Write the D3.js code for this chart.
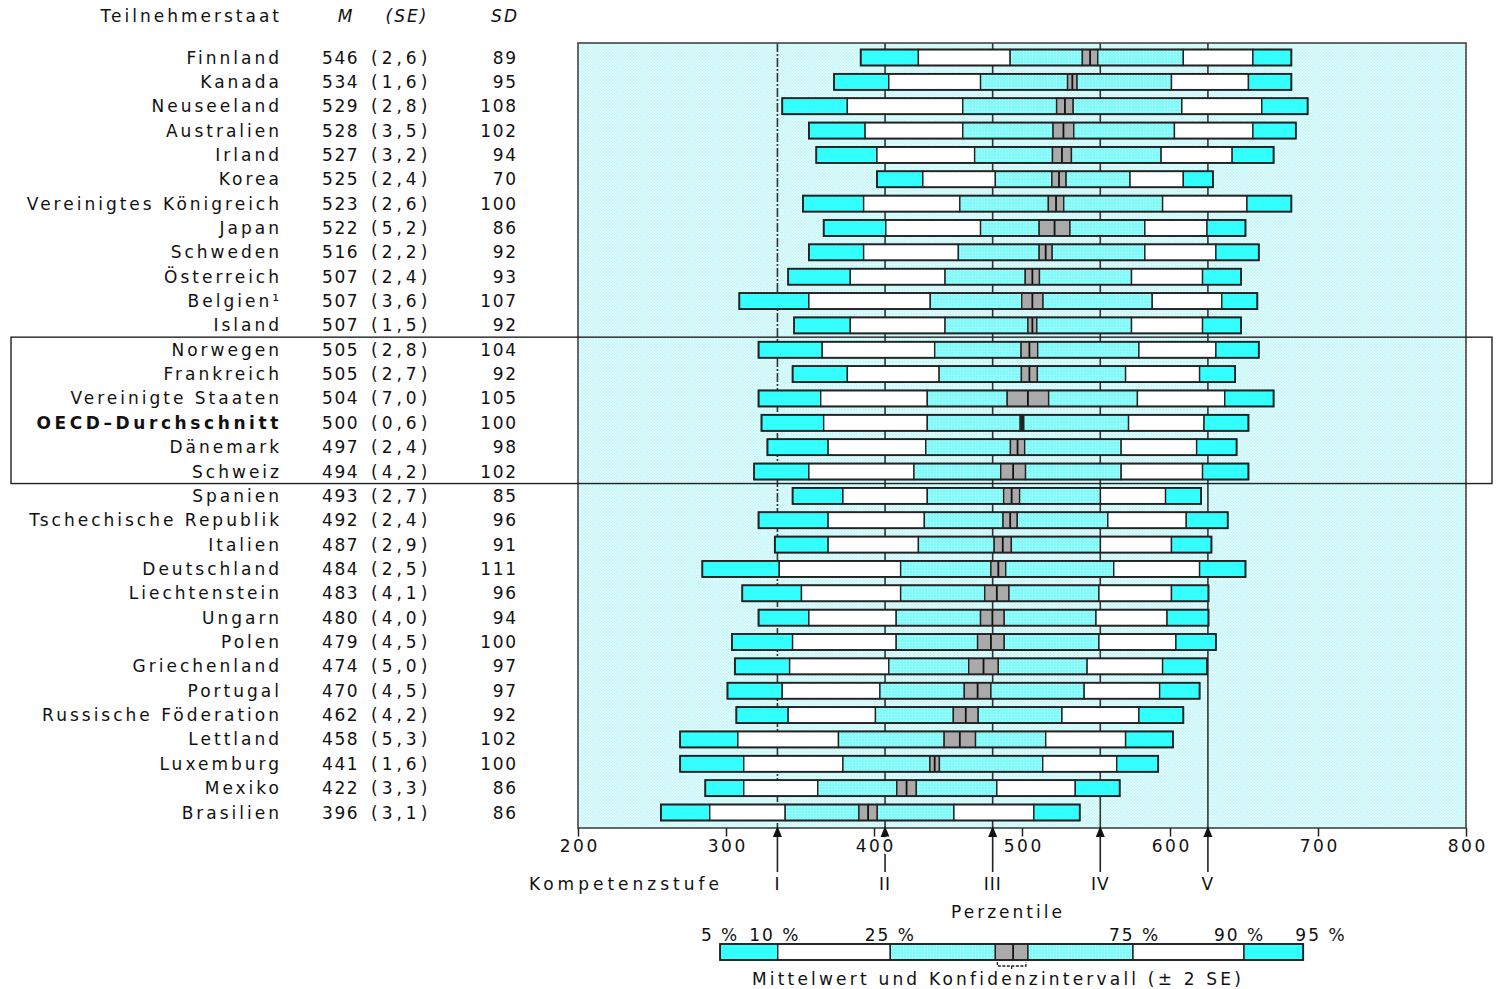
<!DOCTYPE html>
<html><head><meta charset="utf-8">
<script src="https://cdn.jsdelivr.net/npm/d3@7"></script>
<style>
html,body{margin:0;padding:0;background:#fff;}
svg text{font-family:"DejaVu Sans","Open Sans",sans-serif;fill:#111;font-size:17px;}
</style></head>
<body><svg id="c" width="1499" height="989"></svg>
<script>
const countries = ["Finnland","Kanada","Neuseeland","Australien","Irland","Korea","Vereinigtes Königreich","Japan","Schweden","Österreich","Belgien\u00B9","Island","Norwegen","Frankreich","Vereinigte Staaten","OECD–Durchschnitt","Dänemark","Schweiz","Spanien","Tschechische Republik","Italien","Deutschland","Liechtenstein","Ungarn","Polen","Griechenland","Portugal","Russische Föderation","Lettland","Luxemburg","Mexiko","Brasilien"];
const means = [546,534,529,528,527,525,523,522,516,507,507,507,505,505,504,500,497,494,493,492,487,484,483,480,479,474,470,462,458,441,422,396];
const se = [2.6,1.6,2.8,3.5,3.2,2.4,2.6,5.2,2.2,2.4,3.6,1.5,2.8,2.7,7.0,0.6,2.4,4.2,2.7,2.4,2.9,2.5,4.1,4.0,4.5,5.0,4.5,4.2,5.3,1.6,3.3,3.1];
const sd = [89,95,108,102,94,70,100,86,92,93,107,92,104,92,105,100,98,102,85,96,91,111,96,94,100,97,97,92,102,100,86,86];
const p5  = [391,373,338,356,361,402,352,366,356,342,309,346,322,345,322,324,328,319,345,322,333,284,311,322,304,306,301,307,269,269,286,256];
const p10 = [430,410,382,394,402,433,393,408,393,384,356,384,365,382,364,366,369,356,379,369,369,336,351,356,345,343,338,342,308,312,312,289];
const p25 = [492,472,460,460,468,482,458,472,457,448,438,448,441,444,436,436,435,427,436,434,430,418,418,415,415,410,404,401,376,379,362,340];
const p75 = [609,601,608,603,594,573,595,583,583,574,588,574,579,570,578,572,567,567,553,558,553,562,552,550,552,544,542,527,516,514,483,454];
const p90 = [656,653,662,656,642,609,652,625,631,622,635,622,631,620,637,623,618,622,597,611,601,620,601,598,604,595,593,579,570,564,536,508];
const p95 = [682,682,693,685,670,629,682,651,660,648,659,648,660,644,670,653,645,653,621,639,628,651,626,626,631,625,620,609,602,592,566,539];
const levels = [334.75,407.47,480.18,552.89,625.61];
const levelLabels = ["I","II","III","IV","V"];
const xTicks = [200,300,400,500,600,700,800];
const legendValues = [296,335,411,482,494,504,575,650,690];
const legendLabels = ["5 %","10 %","25 %","75 %","90 %","95 %"];
const legendLabelAt = [296,333,411,576,647,702];
const highlighted = ["Norwegen","Schweiz"];

const LS_TXT = 3, LS_NUM = 1.6, LS_AX = 2.6;
const svg = d3.select("#c");
const x = d3.scaleLinear().domain([200,800]).range([578,1466]);
const y = d3.scalePoint().domain(countries).range([57.5,812.5]);
const BH = 16;
const fmtSE = v => "(" + d3.format(".1f")(v).replace(".", ",") + ")";

const defs = svg.append("defs");
const bg = defs.append("pattern").attr("id","bgpat").attr("width",3).attr("height",3).attr("patternUnits","userSpaceOnUse");
bg.append("rect").attr("width",3).attr("height",3).attr("fill","#c8f8fa");
bg.append("rect").attr("width",1).attr("height",1).attr("fill","#ffffff");
bg.append("rect").attr("x",1.5).attr("y",1.5).attr("width",1).attr("height",1).attr("fill","#f4ffff");
const lc = defs.append("pattern").attr("id","lcpat").attr("width",3).attr("height",3).attr("patternUnits","userSpaceOnUse");
lc.append("rect").attr("width",3).attr("height",3).attr("fill","#84fbfb");
lc.append("rect").attr("width",1).attr("height",1).attr("fill","#c8ffff");

// plot background
const plotTop = 43, plotBottom = 828;
svg.append("rect").attr("x",x(200)).attr("y",plotTop).attr("width",x(800)-x(200)).attr("height",plotBottom-plotTop)
  .attr("fill","url(#bgpat)");

// level lines
svg.append("g").selectAll("line").data(levels).join("line")
  .attr("x1",d=>x(d)).attr("x2",d=>x(d)).attr("y1",plotTop).attr("y2",plotBottom)
  .attr("stroke","#333").attr("stroke-width",1.6)
  .attr("stroke-dasharray",(d,i)=> i===0 ? "9,2,2,2" : null);

// bars
const rows = countries.map((c,i)=>({c,i,m:means[i],se:se[i],v:[p5[i],p10[i],p25[i],means[i]-2*se[i],means[i]+2*se[i],p75[i],p90[i],p95[i]]}));
const segFill = ["#33ffff","#ffffff","url(#lcpat)","#aaaaaa","url(#lcpat)","#ffffff","#33ffff"];
function drawBar(g, v, m, cy){
  for(let k=0;k<7;k++){
    g.append("rect").attr("x",x(v[k])).attr("y",cy-BH/2).attr("width",Math.max(0.5,x(v[k+1])-x(v[k]))).attr("height",BH)
      .attr("fill",segFill[k]).attr("stroke","#222").attr("stroke-width",1.4);
  }
  g.append("line").attr("x1",x(m)).attr("x2",x(m)).attr("y1",cy-BH/2).attr("y2",cy+BH/2).attr("stroke","#111").attr("stroke-width",1.8);
  g.append("rect").attr("x",x(v[0])).attr("y",cy-BH/2).attr("width",x(v[7])-x(v[0])).attr("height",BH)
    .attr("fill","none").attr("stroke","#222").attr("stroke-width",1.8);
}
const gb = svg.append("g");
rows.forEach(r=>drawBar(gb, r.v, r.m, y(r.c)));

// frame
svg.append("rect").attr("x",x(200)).attr("y",plotTop).attr("width",x(800)-x(200)).attr("height",plotBottom-plotTop)
  .attr("fill","none").attr("stroke","#444").attr("stroke-width",1.6);

// highlight box
const hb0 = y(highlighted[0]) - 12.6, hb1 = y(highlighted[1]) + 12;
svg.append("rect").attr("x",11).attr("y",hb0).attr("width",1492-11).attr("height",hb1-hb0)
  .attr("fill","none").attr("stroke","#222").attr("stroke-width",1.4);

// level arrows
const ag = svg.append("g");
levels.forEach(l=>{
  ag.append("line").attr("x1",x(l)).attr("x2",x(l)).attr("y1",plotBottom+6).attr("y2",plotBottom+44).attr("stroke","#222").attr("stroke-width",1.6);
  ag.append("path").attr("d",`M${x(l)},${plotBottom-2} L${x(l)-4.5},${plotBottom+9} L${x(l)+4.5},${plotBottom+9} Z`).attr("fill","#111");
});

// axis
const ax = svg.append("g").attr("transform",`translate(0,${plotBottom})`)
  .call(d3.axisBottom(x).tickValues(xTicks).tickSize(10).tickPadding(2).tickFormat(d3.format("d")));
ax.select(".domain").remove();
ax.selectAll(".tick line").attr("stroke","#222").attr("stroke-width",1.5);
ax.selectAll(".tick text").attr("font-size","17px").attr("letter-spacing",LS_AX+"px")
  .attr("font-family","'DejaVu Sans',sans-serif").attr("fill","#111").attr("dx",LS_AX/2)
  .attr("stroke","#fff").attr("stroke-width",5).attr("paint-order","stroke");

svg.append("g").selectAll("text").data(levels).join("text")
  .attr("x",d=>x(d)).attr("y",plotBottom+62).attr("text-anchor","middle").attr("letter-spacing","1px")
  .text((d,i)=>levelLabels[i]);
svg.append("text").attr("x",720+LS_TXT).attr("y",plotBottom+62).attr("text-anchor","end").attr("letter-spacing","4px")
  .text("Kompetenzstufe");
svg.append("text").attr("x",1008).attr("y",plotBottom+90).attr("text-anchor","middle").attr("letter-spacing",LS_TXT+"px")
  .text("Perzentile");

// left table
const tg = svg.append("g");
tg.append("text").attr("x",279+LS_TXT).attr("y",22).attr("text-anchor","end").attr("letter-spacing",LS_TXT+"px").text("Teilnehmerstaat");
tg.append("text").attr("x",345).attr("y",22).attr("text-anchor","middle").attr("font-style","italic").text("M");
tg.append("text").attr("x",407).attr("y",22).attr("text-anchor","middle").attr("font-style","italic").attr("letter-spacing","2px").text("(SE)");
tg.append("text").attr("x",517+2).attr("y",22).attr("text-anchor","end").attr("font-style","italic").attr("letter-spacing","2px").text("SD");
rows.forEach(r=>{
  const cy = y(r.c) + 6;
  const isO = r.c.startsWith("OECD");
  tg.append("text").attr("x",279+LS_TXT).attr("y",cy).attr("text-anchor","end").attr("letter-spacing",(isO?3.6:LS_TXT)+"px")
    .attr("font-weight", isO ? 700 : 400).text(r.c);
  tg.append("text").attr("x",322).attr("y",cy).attr("letter-spacing",LS_NUM+"px").text(r.m);
  tg.append("text").attr("x",371).attr("y",cy).attr("letter-spacing","4px").text(fmtSE(r.se));
  tg.append("text").attr("x",516+LS_NUM).attr("y",cy).attr("text-anchor","end").attr("letter-spacing",LS_NUM+"px").text(sd[r.i]);
});

// legend
const ly = 952;
const lg = svg.append("g");
drawBar(lg, [legendValues[0],legendValues[1],legendValues[2],legendValues[3],legendValues[5],legendValues[6],legendValues[7],legendValues[8]], legendValues[4], ly);
lg.selectAll("text.ll").data(legendLabels).join("text").attr("class","ll")
  .attr("x",(d,i)=>x(legendLabelAt[i])).attr("y",ly-11).attr("text-anchor","middle").attr("letter-spacing","2px").text(d=>d);
const bx0 = x(legendValues[3]), bx1 = x(legendValues[5]), bm = (bx0+bx1)/2;
lg.append("path").attr("d",`M${bx0+2},${ly+10} L${bx0+2},${ly+14} L${bx1-2},${ly+14} L${bx1-2},${ly+10} M${bm},${ly+14} L${bm},${ly+17}`)
  .attr("fill","none").attr("stroke","#222").attr("stroke-width",1.3).attr("stroke-dasharray","3,1.5");
lg.append("text").attr("x",998).attr("y",985).attr("text-anchor","middle").attr("letter-spacing","3.2px")
  .text("Mittelwert und Konfidenzintervall (± 2 SE)");
</script></body></html>
